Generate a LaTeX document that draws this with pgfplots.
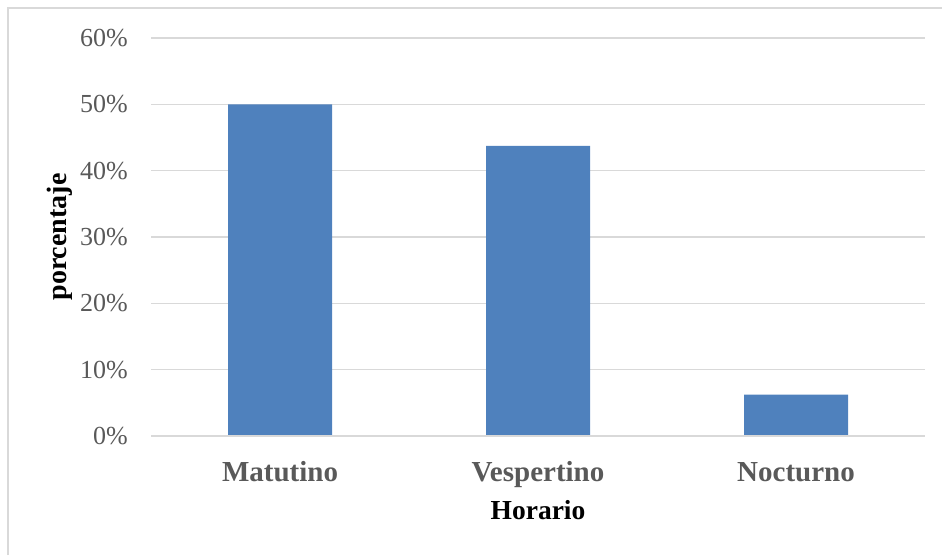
\documentclass[border=0pt]{standalone}
\usepackage{fontspec}
\setmainfont{Liberation Serif}
\usepackage{pgfplots}
\pgfplotsset{compat=1.18}
\definecolor{barblue}{HTML}{4F81BD}
\definecolor{gridgray}{HTML}{D9D9D9}
\definecolor{textgray}{HTML}{595959}
\begin{document}
\begin{tikzpicture}[x=1pt,y=1pt]
\path[use as bounding box] (0,0) rectangle (942,555);
% chart border (cut at right and bottom in the reference)
\draw[gridgray, line width=1.5pt] (8,0) -- (8,547) -- (942,547);
\begin{axis}[
  at={(151pt,119pt)}, anchor=south west,
  scale only axis, width=774pt, height=398pt,
  xmin=-0.5, xmax=2.5, ymin=0, ymax=60,
  xtick={0,1,2}, xticklabels={Matutino,Vespertino,Nocturno},
  ytick={0,10,...,60},
  yticklabels={0\%,10\%,20\%,30\%,40\%,50\%,60\%},
  major tick length=0pt,
  axis line style={draw=none},
  ymajorgrids, grid style={gridgray, line width=1.5pt},
  yticklabel style={font=\fontsize{26}{30}\selectfont, text=textgray, anchor=east, inner sep=0pt, xshift=-23pt},
  xticklabel style={font=\fontsize{29}{34}\selectfont\bfseries, text=textgray, anchor=base, inner sep=0pt, yshift=-45pt},
  xlabel={Horario}, ylabel={porcentaje},
  xlabel style={font=\fontsize{27.5}{32}\selectfont\bfseries, at={(axis description cs:0.5,-0.211)}, anchor=base, inner sep=0pt},
  ylabel style={font=\fontsize{28}{32}\selectfont\bfseries, at={(axis description cs:-0.1176,0.5)}, anchor=center},
  clip=false,
]
\addplot[ybar, bar width=104pt, fill=barblue, draw=none] coordinates {(0,50) (1,43.75) (2,6.25)};
\draw[gridgray, line width=1.5pt] (axis cs:-0.5,0) -- (axis cs:2.5,0);
\end{axis}
\end{tikzpicture}
\end{document}
